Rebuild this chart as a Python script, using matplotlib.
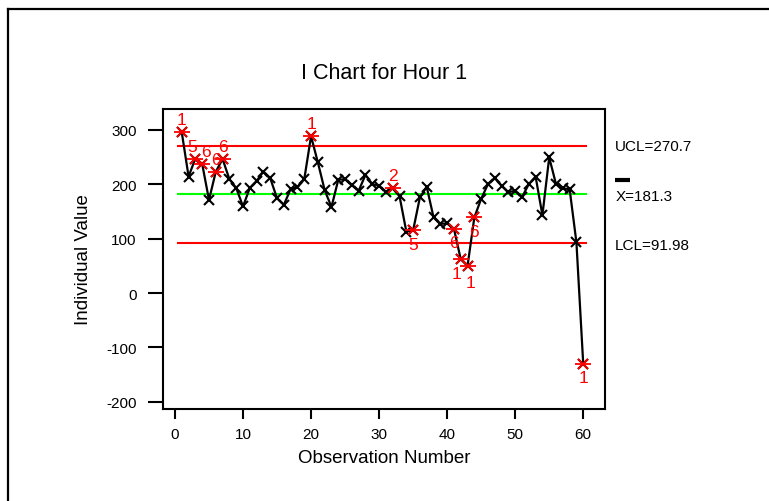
import matplotlib
matplotlib.use("Agg")
import matplotlib.pyplot as plt
from matplotlib.lines import Line2D
import matplotlib.transforms as mtransforms

plt.rcParams['font.family'] = ['Liberation Sans', 'DejaVu Sans']
plt.rcParams['axes.unicode_minus'] = False

# Individual observations for hour 1
values = [295, 214, 247, 237, 171, 223, 246, 209, 193, 159,
          193, 206, 223, 211, 174, 162, 191, 194, 209, 288,
          240, 189, 158, 208, 209, 198, 188, 217, 200, 197,
          186, 192, 178, 113, 115, 176, 195, 139, 127, 128,
          118, 62, 50, 139, 173, 200, 211, 197, 185, 188,
          176, 200, 214, 143, 249, 200, 192, 191, 93, -130]
obs = list(range(1, len(values) + 1))

# Control limits
center = 181.3
ucl = 270.7
lcl = 91.98

# Points flagged by the run tests: observation, test number, label side
flag_obs = [1, 3, 4, 6, 7, 20, 32, 35, 41, 42, 43, 44, 60]
flag_tests = ["1", "5", "6", "6", "6", "1", "2", "5", "6", "1", "1", "6", "1"]
flag_side = ["up", "up", "up", "up", "up", "up", "up", "down", "down",
             "down", "down", "down", "down"]

# small horizontal / vertical nudges (points) for crowded labels
nudge = {3: (-2, 0), 4: (3, 0), 42: (-3, 0), 43: (2, -2)}

fig = plt.figure(figsize=(7.69, 5.02), dpi=100)
ax = fig.add_axes([163 / 769, 1 - 410 / 502, (605 - 163) / 769, (410 - 110) / 502])

# Frame around the whole figure (left and top edges visible)
fig.add_artist(Line2D([8 / 769, 8 / 769], [-0.05, 1 - 10 / 502],
                      transform=fig.transFigure, color='black', lw=1.6))
fig.add_artist(Line2D([8 / 769, 1.05], [1 - 10 / 502, 1 - 10 / 502],
                      transform=fig.transFigure, color='black', lw=1.6))

# Control lines
ax.plot([0.5, 60.4], [ucl, ucl], color='#ff0000', lw=1.5, zorder=2)
ax.plot([0.5, 60.4], [lcl, lcl], color='#ff0000', lw=1.5, zorder=2)
ax.plot([0.5, 60.4], [center, center], color='#00ff00', lw=1.5, zorder=2)

# Data series
ax.plot(obs, values, color='black', lw=1.6, marker='x', markersize=7,
        markeredgewidth=1.5, zorder=3)

# Flagged points in red with their test numbers
for o, t, s in zip(flag_obs, flag_tests, flag_side):
    v = values[o - 1]
    ax.plot([o], [v], marker='x', color='#ff0000', markersize=7,
            markeredgewidth=1.3, zorder=4)
    ax.plot([o], [v], marker='_', color='#ff0000', markersize=11,
            markeredgewidth=1.3, zorder=4)
    dx, extra = nudge.get(o, (0, 0))
    dy = (9 if s == "up" else -10) + extra
    ax.annotate(t, (o, v), xytext=(dx, dy), textcoords='offset points',
                ha='center', va='center', color='#ff0000', fontsize=12.5,
                zorder=5)

ax.set_xlim(-1.76, 63.2)
ax.set_ylim(-213, 338)
ax.set_xticks([0, 10, 20, 30, 40, 50, 60])
ax.set_yticks([-200, -100, 0, 100, 200, 300])
ax.tick_params(axis='y', length=11, width=1.5, pad=8, labelsize=11)
ax.tick_params(axis='x', length=7, width=1.5, pad=6, labelsize=11)
for sp in ax.spines.values():
    sp.set_linewidth(1.5)

ax.set_xlabel("Observation Number", fontsize=13.5, labelpad=6)
ax.set_ylabel("Individual Value", fontsize=13.5, labelpad=10)
ax.set_title("I Chart for Hour 1", fontsize=15.5, pad=22)

# Limit annotations to the right of the plot
trans = mtransforms.blended_transform_factory(ax.transAxes, ax.transData)
ax.text(1.023, ucl, "UCL=270.7", transform=trans, fontsize=11,
        va='center', ha='left')
ax.text(1.023, center - 4, "X=181.3", transform=trans, fontsize=11,
        va='center', ha='left')
ax.plot([1.023, 1.057], [center + 26, center + 26], transform=trans,
        color='black', lw=3, clip_on=False, solid_capstyle='butt')
ax.text(1.023, lcl - 4, "LCL=91.98", transform=trans, fontsize=11,
        va='center', ha='left')

fig.savefig("out.png", dpi=100)
